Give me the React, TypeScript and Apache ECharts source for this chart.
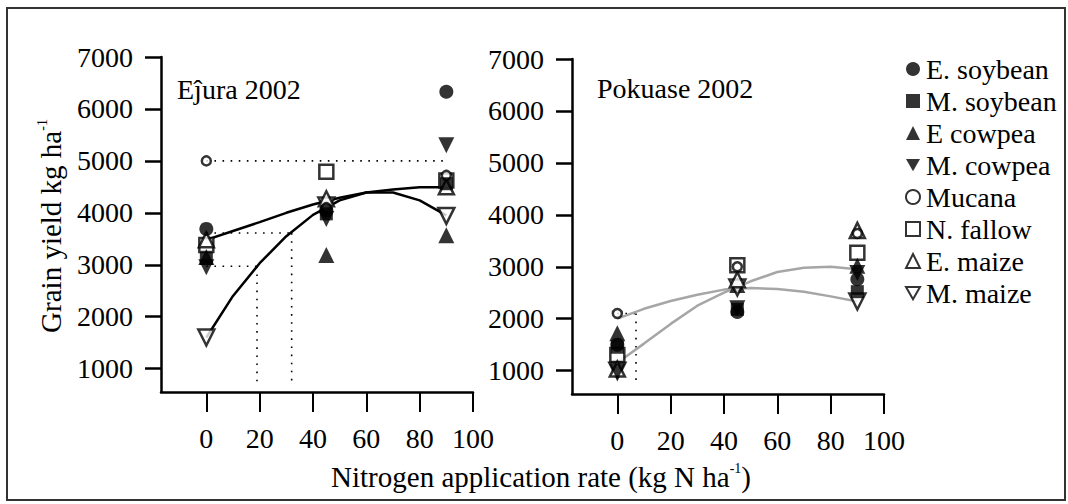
import React, { useEffect, useRef } from 'react';
import * as echarts from 'echarts';

const FONT = 'Liberation Serif, Times New Roman, serif';
const FS = 28;

// ---------- data ----------
const seriesNames = ['E. soybean', 'M. soybean', 'E cowpea', 'M. cowpea', 'Mucana', 'N. fallow', 'E. maize', 'M. maize'];
const nRates = [0, 45, 90];
const xTickValues = [0, 20, 40, 60, 80, 100];
const yTickValues = [1000, 2000, 3000, 4000, 5000, 6000, 7000];

// Ejura 2002 (kg/ha) at N = 0, 45, 90
const ejuraESoybean = [3690, 4050, 6330];
const ejuraMSoybean = [3120, 3980, 4560];
const ejuraECowpea = [3150, 3190, 3570];
const ejuraMCowpea = [2950, 3880, 5300];
const ejuraMucana = [5000, 4100, 4720];
const ejuraNFallow = [3380, 4790, 4620];
const ejuraEMaize = [3480, 4270, 4500];
const ejuraMMaize = [1600, 4140, 3940];

// Pokuase 2002
const pokESoybean = [1500, 2130, 2760];
const pokMSoybean = [1450, 2180, 2520];
const pokECowpea = [1720, 2650, 3020];
const pokMCowpea = [980, 2200, 2880];
const pokMucana = [2100, 3000, 3640];
const pokNFallow = [1300, 3030, 3270];
const pokEMaize = [1030, 2750, 3700];
const pokMMaize = [1000, 2600, 2330];

// fitted response curves
const curveX = [0, 10, 20, 30, 40, 50, 60, 70, 80, 90];
const ejuraFitA = [3480, 3650, 3820, 4000, 4160, 4290, 4390, 4450, 4490, 4490];
const ejuraFitB = [1600, 2400, 3030, 3550, 3960, 4240, 4390, 4390, 4240, 3950];
const pokFitA = [2000, 2190, 2340, 2460, 2560, 2590, 2570, 2520, 2430, 2330];
const pokFitB = [1150, 1520, 1900, 2250, 2500, 2720, 2900, 2980, 3000, 2950];

// dotted N-equivalence guide lines
const ejuraGuides = [
  [[0, 5000], [90, 5000]],
  [[0, 3610], [32, 3610]],
  [[0, 2970], [19, 2970]],
  [[19, 2970], [19, 680]],
  [[32, 3610], [32, 680]],
];
const pokGuides = [
  [[0, 2100], [7, 2100]],
  [[7, 2100], [7, 780]],
];

const ejuraValues: Record<string, number[]> = {
  'E. soybean': ejuraESoybean, 'M. soybean': ejuraMSoybean, 'E cowpea': ejuraECowpea, 'M. cowpea': ejuraMCowpea,
  'Mucana': ejuraMucana, 'N. fallow': ejuraNFallow, 'E. maize': ejuraEMaize, 'M. maize': ejuraMMaize,
};
const pokValues: Record<string, number[]> = {
  'E. soybean': pokESoybean, 'M. soybean': pokMSoybean, 'E cowpea': pokECowpea, 'M. cowpea': pokMCowpea,
  'Mucana': pokMucana, 'N. fallow': pokNFallow, 'E. maize': pokEMaize, 'M. maize': pokMMaize,
};

// ---------- styles ----------
const markerStyles: Record<string, any> = {
  'E. soybean': { symbol: 'circle', symbolSize: 14, rotate: 0, itemStyle: { color: '#000' } },
  'M. soybean': { symbol: 'rect', symbolSize: 13, rotate: 0, itemStyle: { color: '#000' } },
  'E cowpea': { symbol: 'triangle', symbolSize: 16, rotate: 0, itemStyle: { color: '#000' } },
  'M. cowpea': { symbol: 'triangle', symbolSize: 16, rotate: 180, itemStyle: { color: '#000' } },
  'Mucana': { symbol: 'circle', symbolSize: 9, rotate: 0, itemStyle: { color: '#fff', borderColor: '#000', borderWidth: 2.5 } },
  'N. fallow': { symbol: 'rect', symbolSize: 14, rotate: 0, itemStyle: { color: '#fff', borderColor: '#000', borderWidth: 2.5 } },
  'E. maize': { symbol: 'triangle', symbolSize: 15, rotate: 0, itemStyle: { color: '#fff', borderColor: '#000', borderWidth: 2.5 } },
  'M. maize': { symbol: 'triangle', symbolSize: 16, rotate: 180, itemStyle: { color: '#fff', borderColor: '#000', borderWidth: 2.5 } },
};
const drawOrder = ['N. fallow', 'E cowpea', 'M. maize', 'E. maize', 'Mucana', 'M. cowpea', 'M. soybean', 'E. soybean'];
const DOWN_TRI = 'path://M0,0L16,0L8,14Z';

function makeXAxis(gridIndex: number) {
  return {
    gridIndex, type: 'value', min: -17, max: 100,
    axisLine: { show: true, onZero: false, lineStyle: { color: '#000', width: 2.5 } },
    axisTick: { show: true, inside: false, length: 20, lineStyle: { color: '#000', width: 2 }, customValues: xTickValues },
    axisLabel: { margin: 32, fontSize: FS, fontFamily: FONT, color: '#000', customValues: xTickValues, formatter: (v: number) => String(v) },
    splitLine: { show: false },
  };
}
function makeYAxis(gridIndex: number) {
  return {
    gridIndex, type: 'value', min: 550, max: 7000,
    axisLine: { show: true, onZero: false, lineStyle: { color: '#000', width: 2.5 } },
    axisTick: { show: true, inside: false, length: 16, lineStyle: { color: '#000', width: 2.5 }, customValues: yTickValues },
    axisLabel: { margin: 28, fontSize: FS, fontFamily: FONT, color: '#000', customValues: yTickValues, formatter: (v: number) => String(v) },
    splitLine: { show: false },
  };
}

function buildOption() {
  const series: any[] = [];
  const panels = [
    { idx: 0, values: ejuraValues, fits: [ejuraFitA, ejuraFitB], guides: ejuraGuides, curveColor: '#000' },
    { idx: 1, values: pokValues, fits: [pokFitA, pokFitB], guides: pokGuides, curveColor: '#a6a6a6' },
  ];
  panels.forEach((p) => {
    p.guides.forEach((g) => {
      series.push({
        type: 'line', xAxisIndex: p.idx, yAxisIndex: p.idx, data: g, symbol: 'none', silent: true, z: 1,
        lineStyle: { color: '#000', width: 1.6, type: [1.6, 6.5] },
      });
    });
    p.fits.forEach((f) => {
      series.push({
        type: 'line', xAxisIndex: p.idx, yAxisIndex: p.idx, data: curveX.map((x, i) => [x, f[i]]),
        symbol: 'none', silent: true, z: 2, lineStyle: { color: p.curveColor, width: 2.5 },
      });
    });
    drawOrder.forEach((name) => {
      const st = markerStyles[name];
      series.push({
        type: 'scatter', name, xAxisIndex: p.idx, yAxisIndex: p.idx,
        data: nRates.map((x, i) => [x, p.values[name][i]]),
        symbol: st.symbol, symbolSize: st.symbolSize, symbolRotate: st.rotate,
        itemStyle: st.itemStyle, z: 3,
      });
    });
  });

  const legendData = seriesNames.map((name) =>
    markerStyles[name].rotate === 180 ? { name, icon: DOWN_TRI } : { name }
  );

  return {
    animation: false,
    backgroundColor: '#fff',
    textStyle: { fontFamily: FONT },
    grid: [
      { left: 161, top: 57, width: 312, height: 335, outerBoundsMode: 'none' },
      { left: 572, top: 59, width: 312, height: 335, outerBoundsMode: 'none' },
    ],
    xAxis: [makeXAxis(0), makeXAxis(1)],
    yAxis: [makeYAxis(0), makeYAxis(1)],
    legend: {
      orient: 'vertical', left: 900, top: 50, itemWidth: 14, itemHeight: 14, itemGap: 4,
      data: legendData, selectedMode: false, symbolRotate: 0,
      textStyle: { fontSize: FS, fontFamily: FONT, color: '#000', padding: [0, 0, 0, 1] },
    },
    graphic: [
      { type: 'rect', shape: { x: 7, y: 8, width: 1058, height: 492 }, style: { fill: 'none', stroke: '#333', lineWidth: 2 }, silent: true },
      { type: 'text', x: 177, y: 89, style: { text: 'Eĵura 2002', fontSize: FS, fontFamily: FONT, fill: '#000', verticalAlign: 'middle' } },
      { type: 'text', x: 597, y: 88, style: { text: 'Pokuase 2002', fontSize: FS, fontFamily: FONT, fill: '#000', verticalAlign: 'middle' } },
      {
        type: 'text', x: 541, y: 477,
        style: {
          text: '{a|Nitrogen application rate (kg N ha}{s|-1}{a|)}', align: 'center', verticalAlign: 'middle',
          rich: {
            a: { fontSize: 29, fontFamily: FONT, fill: '#000', lineHeight: 31 },
            s: { fontSize: 14, fontFamily: FONT, fill: '#000', verticalAlign: 'top', lineHeight: 31 },
          },
        },
      },
      {
        type: 'text', x: 51, y: 226, rotation: Math.PI / 2,
        style: {
          text: '{a|Grain yield kg ha}{s|-1}', align: 'center', verticalAlign: 'middle',
          rich: {
            a: { fontSize: 29, fontFamily: FONT, fill: '#000', lineHeight: 31 },
            s: { fontSize: 14, fontFamily: FONT, fill: '#000', verticalAlign: 'top', lineHeight: 31 },
          },
        },
      },
    ],
    series,
  };
}

export default function App() {
  const ref = useRef<HTMLDivElement>(null);
  useEffect(() => {
    if (!ref.current) return;
    const chart = echarts.init(ref.current, undefined, { renderer: 'svg' });
    chart.setOption(buildOption() as any);
    return () => chart.dispose();
  }, []);
  return (
    <div
      ref={ref}
      style={{ position: 'fixed', left: 0, top: 0, width: 1068, height: 504, background: '#fff' }}
    />
  );
}
